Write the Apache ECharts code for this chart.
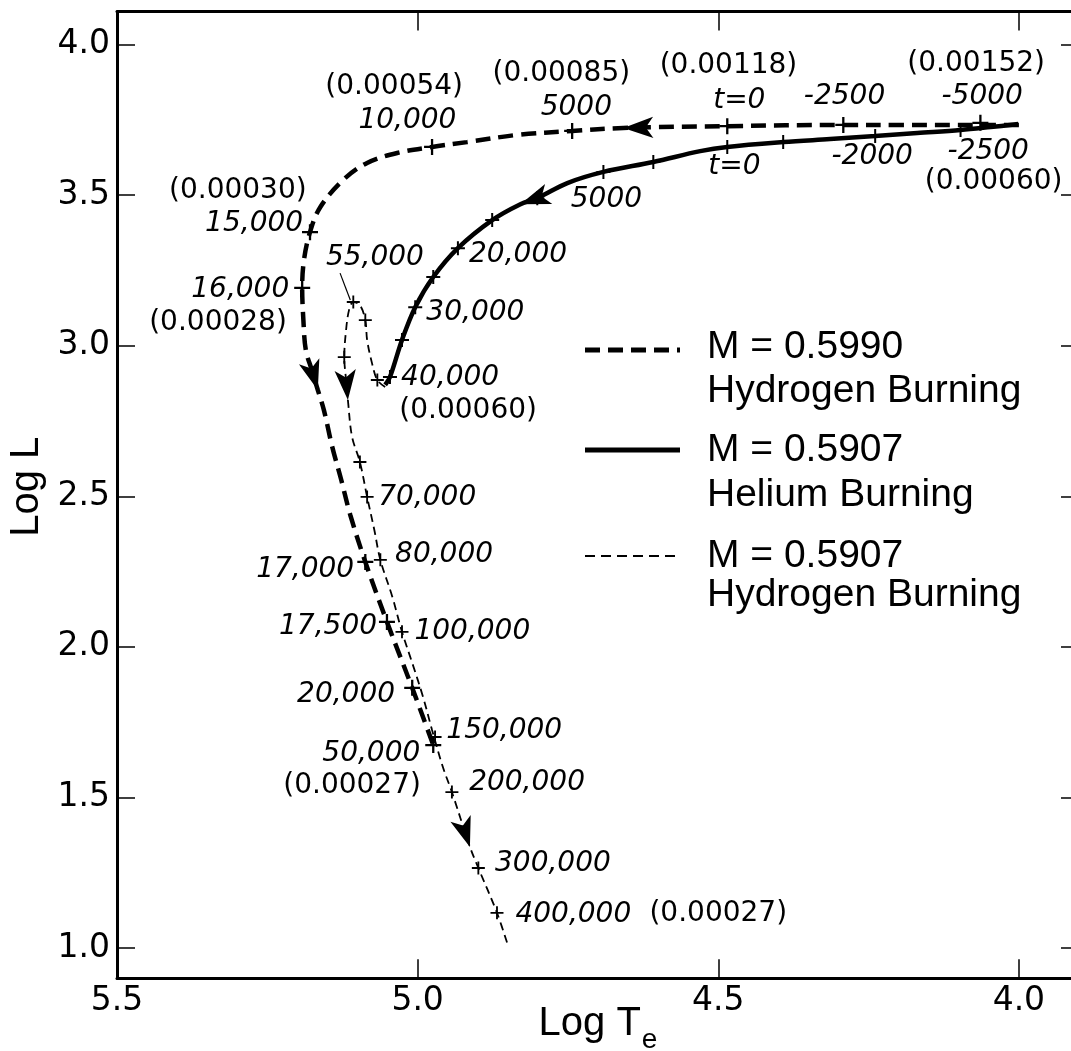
<!DOCTYPE html>
<html>
<head>
<meta charset="utf-8">
<title>Log L - Log Te</title>
<script src="https://cdn.jsdelivr.net/npm/echarts@6/dist/echarts.min.js"></script>
<style>
  html, body { margin: 0; padding: 0; background: #fff; }
  #chart { width: 1071px; height: 1051px; }
</style>
</head>
<body>
<div id="chart"></div>
<script>
// axis ticks
const xTicks = [4.0, 4.5, 5.0, 5.5];
const yTicks = [1.0, 1.5, 2.0, 2.5, 3.0, 3.5, 4.0];

// tracks, [log Te, log L]
const trackH5990 = [
  [4.000, 3.733], [4.064, 3.733], [4.197, 3.733], [4.292, 3.733], [4.485, 3.729],
  [4.658, 3.723], [4.743, 3.713], [4.834, 3.700], [4.918, 3.676], [4.976, 3.660],
  [5.034, 3.640], [5.084, 3.607], [5.124, 3.550], [5.162, 3.460], [5.179, 3.377],
  [5.189, 3.285], [5.192, 3.192], [5.190, 3.085], [5.186, 2.986], [5.176, 2.919],
  [5.166, 2.853], [5.156, 2.787], [5.142, 2.664], [5.127, 2.554], [5.112, 2.438],
  [5.087, 2.282], [5.051, 2.083], [5.009, 1.864], [4.974, 1.674]
];
const trackHe5907 = [
  [4.001, 3.736], [4.047, 3.726], [4.097, 3.716], [4.169, 3.706], [4.239, 3.696],
  [4.314, 3.686], [4.392, 3.676], [4.485, 3.660], [4.530, 3.646], [4.608, 3.610],
  [4.691, 3.577], [4.751, 3.540], [4.801, 3.490], [4.829, 3.470], [4.876, 3.417],
  [4.933, 3.324], [4.974, 3.228], [5.004, 3.128], [5.026, 3.019], [5.046, 2.896],
  [5.054, 2.870]
];
const trackH5907 = [
  [5.054, 2.863], [5.067, 2.886], [5.076, 2.943], [5.084, 3.019], [5.087, 3.085],
  [5.096, 3.135], [5.107, 3.145], [5.114, 3.119], [5.119, 3.052], [5.122, 2.962],
  [5.119, 2.886], [5.116, 2.820], [5.109, 2.697], [5.096, 2.614], [5.084, 2.498],
  [5.072, 2.388], [5.062, 2.289], [5.042, 2.166], [5.026, 2.050], [5.009, 1.947],
  [4.991, 1.834], [4.976, 1.724], [4.958, 1.601], [4.943, 1.518], [4.913, 1.336],
  [4.899, 1.266], [4.868, 1.117], [4.849, 1.004]
];

// time marks on each track
const marksH5990 = [
  [4.064, 3.740], [4.292, 3.733], [4.485, 3.729], [4.743, 3.713], [4.976, 3.660],
  [5.179, 3.377], [5.192, 3.192], [5.087, 2.282], [5.051, 2.083], [5.009, 1.864],
  [4.974, 1.674]
];
const marksHe5907 = [
  [4.097, 3.716], [4.239, 3.696], [4.392, 3.676], [4.485, 3.660], [4.608, 3.610],
  [4.691, 3.577], [4.801, 3.490], [4.876, 3.417], [4.933, 3.324], [4.974, 3.228],
  [5.004, 3.128], [5.026, 3.019], [5.046, 2.896]
];
const marksH5907 = [
  [5.067, 2.886], [5.087, 3.085], [5.107, 3.145], [5.122, 2.962], [5.096, 2.614],
  [5.084, 2.498], [5.062, 2.289], [5.026, 2.050], [4.971, 1.701], [4.943, 1.518],
  [4.899, 1.266], [4.868, 1.117]
];

// direction arrows along the tracks
const arrowsH5990 = [[4.658, 3.723], [5.166, 2.853]];
const arrowsHe5907 = [[4.829, 3.470]];
const arrowsH5907 = [[5.116, 2.820], [4.913, 1.336]];

// leader from "55,000" to the loop top
const leader55k = [[5.129, 3.241], [5.112, 3.152]];

// time labels (years)
const timeLabels = [
  [5.017, 3.746, '10,000'], [4.736, 3.789, '5000'], [4.465, 3.812, 't=0'],
  [4.290, 3.826, '-2500'], [4.061, 3.826, '-5000'],
  [4.473, 3.593, 't=0'], [4.244, 3.627, '-2000'], [4.051, 3.643, '-2500'],
  [4.686, 3.484, '5000'],
  [5.272, 3.404, '15,000'], [5.295, 3.185, '16,000'], [5.071, 3.291, '55,000'],
  [4.833, 3.301, '20,000'], [4.904, 3.109, '30,000'], [4.946, 2.893, '40,000'],
  [4.984, 2.494, '70,000'], [4.956, 2.305, '80,000'], [5.187, 2.255, '17,000'],
  [5.149, 2.066, '17,500'], [4.909, 2.049, '100,000'], [5.119, 1.840, '20,000'],
  [4.856, 1.721, '150,000'], [5.077, 1.644, '50,000'], [4.818, 1.548, '200,000'],
  [4.775, 1.279, '300,000'], [4.741, 1.110, '400,000']
];
// envelope mass labels
const massLabels = [
  [5.039, 3.859, '(0.00054)'], [4.761, 3.902, '(0.00085)'], [4.483, 3.929, '(0.00118)'],
  [4.071, 3.935, '(0.00152)'], [4.042, 3.543, '(0.00060)'], [5.299, 3.514, '(0.00030)'],
  [5.332, 3.075, '(0.00028)'], [4.916, 2.783, '(0.00060)'], [5.109, 1.538, '(0.00027)'],
  [4.500, 1.113, '(0.00027)']
];

const plus = 'path://M6,0h2v6h6v2h-6v6h-2v-6h-6v-2h6z';
const chart = echarts.init(document.getElementById('chart'));

function axisCommon(showLabel) {
  return {
    axisLine: { show: true, onZero: false, lineStyle: { color: '#000', width: 3 } },
    splitLine: { show: false },
    nameMoveOverlap: false,
    axisLabel: {
      show: showLabel,
      formatter: (v) => v.toFixed(1),
      fontFamily: 'DejaVu Sans',
      fontSize: 33,
      color: '#000',
      margin: 7
    }
  };
}

function xAxis(pos, showLabel) {
  let a = Object.assign({ type: 'value', position: pos, inverse: true, min: 3.9, max: 5.5 }, axisCommon(showLabel));
  a.axisTick = { show: true, inside: true, length: 19, lineStyle: { color: '#000', width: 1.5 }, customValues: xTicks };
  a.axisLabel.customValues = xTicks;
  return a;
}
function yAxis(pos, showLabel) {
  let a = Object.assign({ type: 'value', position: pos, min: 0.9, max: 4.11 }, axisCommon(showLabel));
  a.axisTick = { show: true, inside: true, length: 18, lineStyle: { color: '#000', width: 1.5 }, customValues: yTicks };
  a.axisLabel.customValues = yTicks;
  return a;
}

let xBottom = xAxis('bottom', true);
xBottom.name = '{a|Log T}{b|e}';
xBottom.nameLocation = 'middle';
xBottom.nameGap = 26;
xBottom.nameTextStyle = {
  rich: {
    a: { fontFamily: 'Liberation Sans', fontSize: 40, color: '#000', verticalAlign: 'top' },
    b: { fontFamily: 'Liberation Sans', fontSize: 28, color: '#000', verticalAlign: 'top', padding: [22, 0, 0, 1] }
  }
};
let yLeft = yAxis('left', true);
yLeft.name = 'Log L';
yLeft.nameLocation = 'middle';
yLeft.nameGap = 70;
yLeft.nameRotate = 90;
yLeft.nameTextStyle = { fontFamily: 'Liberation Sans', fontSize: 40, color: '#000', padding: [0, 0, 0, 16] };

function track(name, data, width, dash) {
  return {
    name: name,
    type: 'line',
    data: data,
    smooth: 0.35,
    symbol: 'none',
    z: 2,
    lineStyle: { color: '#000', width: width, type: dash, cap: 'butt', opacity: 1 }
  };
}
function marks(data, size) {
  return {
    type: 'scatter',
    data: data,
    symbol: plus,
    symbolSize: size,
    z: 3,
    itemStyle: { color: '#000', opacity: 1 }
  };
}
function textSeries(list, italic, size) {
  return {
    type: 'scatter',
    data: list.map((d) => ({ value: [d[0], d[1]], name: d[2] })),
    symbolSize: 0,
    z: 5,
    itemStyle: { opacity: 1 },
    label: {
      show: true,
      position: 'inside',
      formatter: '{b}',
      color: '#000',
      opacity: 1,
      fontFamily: 'DejaVu Sans',
      fontStyle: italic ? 'italic' : 'normal',
      fontSize: size
    }
  };
}

const legendFont = { fontFamily: 'Liberation Sans', fontSize: 39, fill: '#000', verticalAlign: 'middle', align: 'left' };
function legendText(x, y, t) {
  return { type: 'text', x: x, y: y, style: Object.assign({ text: t }, legendFont) };
}

const option = {
  animation: false,
  backgroundColor: '#fff',
  grid: { left: 117, top: 11.4, width: 962, height: 966.8, containLabel: false, outerBoundsMode: 'none' },
  xAxis: [xBottom, xAxis('top', false)],
  yAxis: [yLeft, yAxis('right', false)],
  series: [
    track('M=0.5990 Hydrogen Burning', trackH5990, 4.5, [15, 8]),
    track('M=0.5907 Helium Burning', trackHe5907, 4.5, 'solid'),
    track('M=0.5907 Hydrogen Burning', trackH5907, 1.8, [8, 5]),
    track('leader', leader55k, 1.2, 'solid'),
    marks(marksH5990, 16),
    marks(marksHe5907, 14),
    marks(marksH5907, 13),
    {
      id: 'arrows',
      type: 'scatter',
      symbol: 'arrow',
      symbolSize: [16, 30],
      z: 4,
      itemStyle: { color: '#000', opacity: 1 },
      data: []
    },
    textSeries(timeLabels, true, 28),
    textSeries(massLabels, false, 28)
  ],
  graphic: [
    { type: 'line', shape: { x1: 585, y1: 350, x2: 680, y2: 350 }, style: { stroke: '#000', lineWidth: 5, lineDash: [15, 8] } },
    legendText(707, 347, 'M = 0.5990'),
    legendText(707, 391, 'Hydrogen Burning'),
    { type: 'line', shape: { x1: 585, y1: 450, x2: 680, y2: 450 }, style: { stroke: '#000', lineWidth: 5 } },
    legendText(707, 450, 'M = 0.5907'),
    legendText(707, 495, 'Helium Burning'),
    { type: 'line', shape: { x1: 585, y1: 556, x2: 680, y2: 556 }, style: { stroke: '#000', lineWidth: 2, lineDash: [10, 6] } },
    legendText(707, 556, 'M = 0.5907'),
    legendText(707, 595, 'Hydrogen Burning')
  ]
};
chart.setOption(option);

// point each arrow along its track (direction of the nearest segment, in pixels)
function toPx(p) {
  return chart.convertToPixel({ xAxisIndex: 0, yAxisIndex: 0 }, p);
}
function arrowRotate(pt, data) {
  const p = toPx(pt);
  let best = Infinity;
  let dir = [0, 1];
  for (let i = 0; i < data.length - 1; i++) {
    const a = toPx(data[i]);
    const b = toPx(data[i + 1]);
    const dx = b[0] - a[0];
    const dy = b[1] - a[1];
    const len2 = dx * dx + dy * dy || 1;
    let t = ((p[0] - a[0]) * dx + (p[1] - a[1]) * dy) / len2;
    t = Math.max(0, Math.min(1, t));
    const ex = a[0] + t * dx - p[0];
    const ey = a[1] + t * dy - p[1];
    const d = ex * ex + ey * ey;
    if (d < best) {
      best = d;
      dir = [dx, dy];
    }
  }
  return (Math.atan2(-dir[0], -dir[1]) * 180) / Math.PI;
}
let arrowData = [];
[[arrowsH5990, trackH5990], [arrowsHe5907, trackHe5907], [arrowsH5907, trackH5907]].forEach((pair) => {
  pair[0].forEach((pt) => {
    arrowData.push({ value: pt, symbolRotate: arrowRotate(pt, pair[1]) });
  });
});
chart.setOption({ series: [{ id: 'arrows', data: arrowData }] });
</script>
</body>
</html>
